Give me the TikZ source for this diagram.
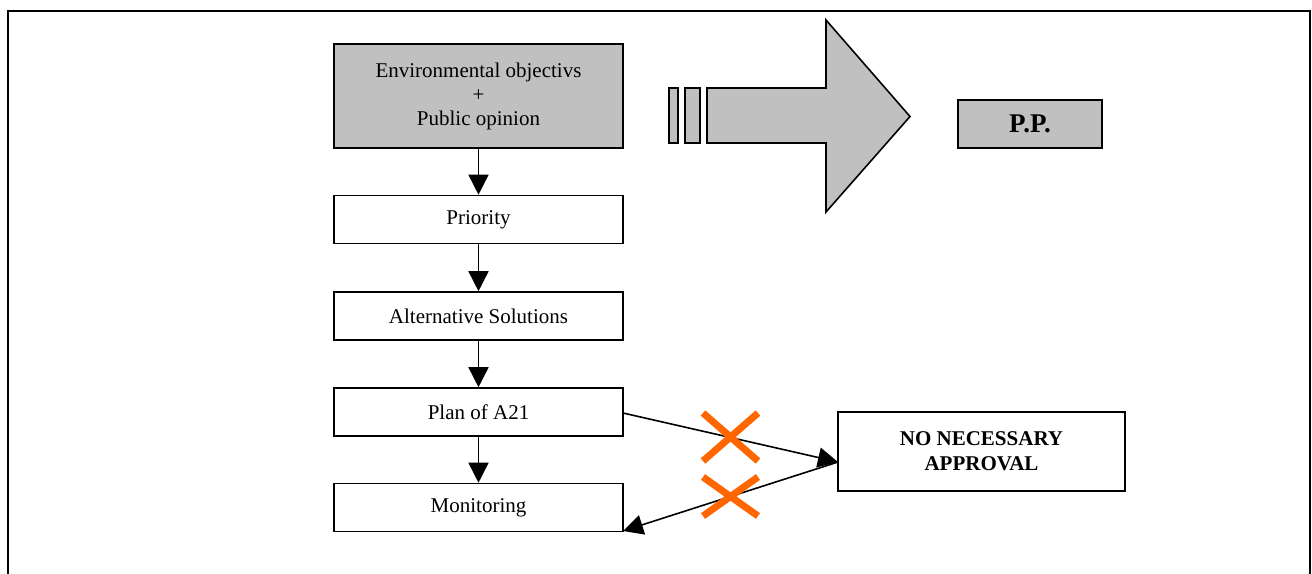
\documentclass[tikz,border=0pt]{standalone}
\usepackage{fontspec}
\setmainfont{Liberation Serif}
\usetikzlibrary{arrows.meta}
\definecolor{boxgray}{RGB}{192,192,192}
\definecolor{crossorange}{RGB}{255,102,0}
\begin{document}
\begin{tikzpicture}[x=1pt,y=-1pt,
  every node/.style={font=\fontsize{21}{24}\selectfont},
  stepbox/.style={draw=black,line width=1.6pt,minimum width=289pt,minimum height=48pt,inner sep=0pt,align=center},
  graybox/.style={stepbox,fill=boxgray},
  flow/.style={line width=1.6pt,-{Triangle[length=20pt,width=20pt]}},
  cross/.style={crossorange,line width=7pt}]
\useasboundingbox (0,0) rectangle (1312,573);
% outer frame (open at the bottom)
\draw[line width=2pt] (8,580) -- (8,11) -- (1310,11) -- (1310,580);

% main column
\node[graybox,minimum height=104pt] (env) at (478.5,96) {Environmental objectivs\\+\\Public opinion};
\node[stepbox] (prio) at (478.5,219.5) {Priority};
\node[stepbox] (alt) at (478.5,316) {Alternative Solutions};
\node[stepbox] (plan) at (478.5,412) {Plan of A21};
\node[stepbox] (mon) at (478.5,507.5) {Monitoring};

\draw[flow] (env.south) -- (prio.north);
\draw[flow] (prio.south) -- (alt.north);
\draw[flow] (alt.south) -- (plan.north);
\draw[flow] (plan.south) -- (mon.north);

% big block arrow
\draw[fill=boxgray,line width=1.6pt] (669,88) rectangle (678,143);
\draw[fill=boxgray,line width=1.6pt] (685,88) rectangle (700,143);
\draw[fill=boxgray,line width=1.6pt,line join=miter]
  (707,88) -- (826,88) -- (826,20) -- (910,116.5) -- (826,212) -- (826,143) -- (707,143) -- cycle;

\node[graybox,minimum width=144pt,minimum height=48pt,font=\fontsize{27}{30}\selectfont\bfseries] (pp) at (1030,124) {P.P.};

% approval box and links
\node[stepbox,minimum width=287pt,minimum height=79pt,font=\fontsize{21}{25}\selectfont\bfseries] (nna) at (981.5,451.5) {NO NECESSARY\\APPROVAL};
\coordinate (plout) at (623,413);
\coordinate (monin) at (623,531);
\coordinate (nnain) at (838,462);
\draw[flow] (plout) -- (nnain);
\draw[flow] (nnain) -- (monin);

% crosses
\draw[cross] (703,413) -- (758,461) (703,461) -- (758,413);
\draw[cross] (703,477) -- (758,516) (703,516) -- (758,477);
\end{tikzpicture}
\end{document}
